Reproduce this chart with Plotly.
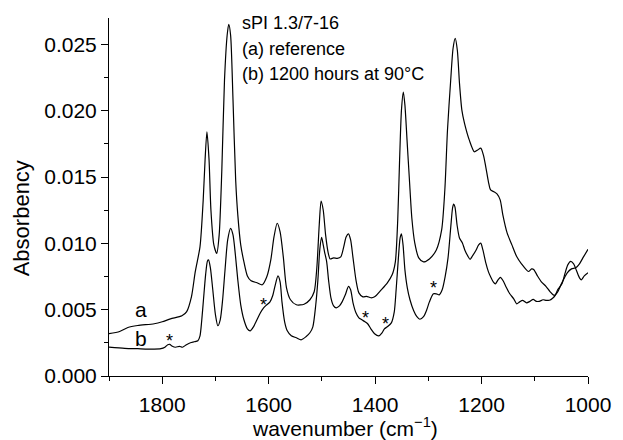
import plotly.graph_objects as go

# ---- data (wavenumber in cm^-1, absorbency) ----
wn_a = [1900, 1880, 1864.5, 1846, 1815, 1800, 1784.5, 1763, 1754, 1745, 1738, 1729, 1723, 1719.5, 1716,
        1712, 1708.5, 1703, 1697.5, 1693, 1688, 1683, 1678, 1675, 1671.5, 1667, 1662, 1658, 1652.5, 1646.5,
        1640, 1633, 1622, 1612, 1603.5, 1596, 1590, 1584, 1578.5, 1572.5, 1566.5, 1559, 1548, 1533.5, 1522.5,
        1514.5, 1509.5, 1505, 1501.5, 1497.5, 1493, 1488.5, 1484.5, 1478, 1471, 1464.5, 1459, 1454.5, 1450,
        1446, 1441.5, 1436, 1430.5, 1423, 1416, 1408, 1401, 1388.5, 1377, 1368, 1362, 1357.5, 1354, 1350.5,
        1347, 1344, 1340, 1335.5, 1331, 1325.5, 1318, 1309, 1298, 1285, 1275, 1269, 1264, 1258, 1253.5,
        1249.5, 1245.5, 1241.5, 1237, 1232, 1223, 1213.5, 1207.5, 1201.5, 1196.5, 1192, 1187, 1183, 1176,
        1171, 1165, 1160, 1152, 1143, 1134, 1125, 1112, 1106, 1102, 1095, 1088, 1079, 1071, 1063.5, 1057,
        1050, 1039, 1031, 1023, 1016, 1008.5, 1000]
abs_a = [0.00319, 0.00336, 0.00366, 0.00381, 0.00394, 0.00409, 0.00431, 0.00454, 0.00486, 0.00599,
         0.00785, 0.00976, 0.01328, 0.01629, 0.01842, 0.01629, 0.01252, 0.00989, 0.00925, 0.01064,
         0.01553, 0.02231, 0.02570, 0.02653, 0.02570, 0.02081, 0.01478, 0.01215, 0.00989, 0.00861,
         0.00755, 0.00718, 0.00703, 0.00688, 0.00748, 0.00876, 0.01049, 0.01152, 0.01087, 0.00898,
         0.00665, 0.00575, 0.00537, 0.00541, 0.00575, 0.00635, 0.00816, 0.01139, 0.01320, 0.01252,
         0.01064, 0.00936, 0.00883, 0.00891, 0.00887, 0.00898, 0.00974, 0.01049, 0.01072, 0.01026,
         0.00891, 0.00725, 0.00627, 0.00597, 0.00601, 0.00590, 0.00597, 0.00650, 0.00703, 0.00763,
         0.00861, 0.01177, 0.01629, 0.02005, 0.02141, 0.02043, 0.01779, 0.01478, 0.01192, 0.01004,
         0.00891, 0.00861, 0.00883, 0.00951, 0.01102, 0.01403, 0.01855, 0.02231, 0.02472, 0.02547,
         0.02457, 0.02209, 0.02005, 0.01905, 0.01779, 0.01691, 0.01704, 0.01719, 0.01666, 0.01576,
         0.01463, 0.01403, 0.01388, 0.01373, 0.01328, 0.01215, 0.01079, 0.00989, 0.00901, 0.00846,
         0.00788, 0.00808, 0.00804, 0.00755, 0.00712, 0.00676, 0.00635, 0.00608, 0.00635, 0.00695,
         0.00778, 0.00808, 0.00816, 0.00846, 0.00898, 0.00955]

wn_b = [1900, 1870.5, 1846, 1815, 1802.5, 1795, 1789.5, 1786, 1781, 1775, 1767.5, 1762, 1754.5, 1747, 1740,
        1733, 1729, 1726, 1722.5, 1718.5, 1715, 1713, 1709.5, 1705, 1700, 1695.5, 1691, 1686.5, 1682, 1677,
        1671.5, 1667, 1662.5, 1658, 1652.5, 1646.5, 1640, 1634.5, 1628.5, 1622, 1615.5, 1609.5, 1603.5,
        1597.5, 1592.5, 1588, 1582.5, 1578.5, 1575, 1570, 1565, 1557.5, 1548, 1539, 1530, 1522.5, 1517,
        1511.5, 1507.5, 1504, 1500.5, 1497.5, 1495, 1491, 1487.5, 1483, 1478, 1473, 1467, 1462, 1456, 1450,
        1446, 1441.5, 1436, 1430.5, 1425, 1419, 1414, 1408, 1401, 1393, 1387, 1382.5, 1377, 1369.5, 1364,
        1360.5, 1356.5, 1353, 1350.5, 1347.5, 1344, 1339.5, 1334.5, 1327.5, 1321.5, 1316, 1309, 1303, 1298,
        1290.5, 1285, 1279.5, 1274, 1268.5, 1263, 1258, 1254.5, 1252.5, 1250, 1246, 1241.5, 1236, 1231.5,
        1226, 1221.5, 1217, 1211, 1205.5, 1201.5, 1197.5, 1192, 1187, 1183, 1178, 1174, 1169, 1164.5,
        1159.5, 1154, 1147, 1139.5, 1134, 1128.5, 1123, 1115.5, 1109, 1103, 1097, 1091.5, 1084.5, 1078.5,
        1072.5, 1066.5, 1061, 1057, 1049, 1043.5, 1038, 1032.5, 1027, 1021.5, 1016, 1012.5, 1007, 1000]
abs_b = [0.00218, 0.00209, 0.00206, 0.00203, 0.00206, 0.00217, 0.00236, 0.00239, 0.00224, 0.00217,
         0.00224, 0.00217, 0.00236, 0.00251, 0.00258, 0.00266, 0.00303, 0.00409, 0.00575, 0.00763,
         0.00868, 0.00876, 0.00816, 0.00650, 0.00462, 0.00379, 0.00424, 0.00575, 0.00800, 0.01026,
         0.01114, 0.01064, 0.00913, 0.00725, 0.00537, 0.00424, 0.00356, 0.00341, 0.00371, 0.00424,
         0.00477, 0.00514, 0.00537, 0.00559, 0.00605, 0.00680, 0.00755, 0.00710, 0.00559, 0.00409,
         0.00341, 0.00303, 0.00288, 0.00273, 0.00296, 0.00326, 0.00371, 0.00537, 0.00725, 0.00951,
         0.01045, 0.00989, 0.00936, 0.00861, 0.00725, 0.00590, 0.00529, 0.00514, 0.00529, 0.00559,
         0.00612, 0.00676, 0.00650, 0.00552, 0.00477, 0.00439, 0.00424, 0.00409, 0.00394, 0.00356,
         0.00319, 0.00303, 0.00326, 0.00356, 0.00371, 0.00401, 0.00484, 0.00650, 0.00876, 0.01041,
         0.01072, 0.00989, 0.00800, 0.00665, 0.00575, 0.00492, 0.00447, 0.00428, 0.00447, 0.00499,
         0.00559, 0.00620, 0.00620, 0.00612, 0.00650, 0.00748, 0.00891, 0.01117, 0.01267, 0.01297,
         0.01275, 0.01139, 0.01041, 0.01004, 0.00951, 0.00906, 0.00880, 0.00906, 0.00944, 0.00989,
         0.01002, 0.00951, 0.00853, 0.00785, 0.00748, 0.00710, 0.00695, 0.00725, 0.00744, 0.00718,
         0.00672, 0.00620, 0.00582, 0.00544, 0.00559, 0.00571, 0.00552, 0.00563, 0.00578, 0.00563,
         0.00563, 0.00575, 0.00571, 0.00571, 0.00586, 0.00612, 0.00650, 0.00695, 0.00770, 0.00838,
         0.00864, 0.00846, 0.00793, 0.00740, 0.00725, 0.00755, 0.00778]

# bands marked with an asterisk
star_wn = [1786, 1609, 1418, 1381, 1290]
star_abs = [0.00263, 0.00536, 0.00441, 0.00393, 0.00666]

# curve labels
curve_labels = ["a", "b"]
curve_label_wn = [1839, 1839]
curve_label_abs = [0.00498, 0.00285]

info_lines = ["sPI 1.3/7-16", "(a) reference", "(b) 1200 hours at 90°C"]
info_abs = [0.02663, 0.02470, 0.02276]

x_tickvals = [1800, 1600, 1400, 1200, 1000]
y_tickvals = [0.000, 0.005, 0.010, 0.015, 0.020, 0.025]

FONT = "Liberation Sans, Arial, sans-serif"

fig = go.Figure()
fig.add_trace(go.Scatter(x=wn_a, y=abs_a, mode="lines", name="a",
                         line=dict(color="black", width=1.2, shape="spline", smoothing=0.7)))
fig.add_trace(go.Scatter(x=wn_b, y=abs_b, mode="lines", name="b",
                         line=dict(color="black", width=1.2, shape="spline", smoothing=0.7)))

ann = []
for w, a in zip(star_wn, star_abs):
    ann.append(dict(x=w, y=a, text="*", showarrow=False, xanchor="center", yanchor="middle",
                    font=dict(size=18, color="black", family=FONT)))
for t, w, a in zip(curve_labels, curve_label_wn, curve_label_abs):
    ann.append(dict(x=w, y=a, text=t, showarrow=False, xanchor="center", yanchor="middle",
                    font=dict(size=21, color="black", family=FONT)))
for t, a in zip(info_lines, info_abs):
    ann.append(dict(x=1653, y=a, text=t, showarrow=False, xanchor="left", yanchor="middle",
                    font=dict(size=18, color="black", family=FONT)))
ann.append(dict(xref="paper", yref="paper", x=-0.182, y=0.44, text="Absorbency", textangle=-90,
                showarrow=False, xanchor="center", yanchor="middle",
                font=dict(size=22, color="black", family=FONT)))
ann.append(dict(xref="paper", yref="paper", x=0.493, y=-0.143, text="wavenumber (cm<sup>\u22121</sup>)",
                showarrow=False, xanchor="center", yanchor="middle",
                font=dict(size=21, color="black", family=FONT)))

fig.update_layout(
    width=623, height=440,
    margin=dict(l=109, r=26, t=18, b=64),
    paper_bgcolor="white", plot_bgcolor="white",
    showlegend=False,
    font=dict(family=FONT, color="black", size=21),
    annotations=ann,
)
fig.update_xaxes(range=[1900, 1000], autorange=False, showline=True, linecolor="black", linewidth=1,
                 ticks="outside", ticklen=7, tickwidth=1, tickcolor="black",
                 tickvals=x_tickvals, showgrid=False, zeroline=False, ticklabelstandoff=3,
                 tickfont=dict(size=21, family=FONT, color="black"),
                 minor=dict(dtick=100, tick0=1000, ticks="outside", ticklen=4, tickcolor="black", showgrid=False))
fig.update_yaxes(range=[0, 0.027], autorange=False, showline=True, linecolor="black", linewidth=1,
                 ticks="outside", ticklen=7, tickwidth=1, tickcolor="black",
                 tickvals=y_tickvals, tickformat=".3f", showgrid=False, zeroline=False,
                 tickfont=dict(size=21, family=FONT, color="black"),
                 minor=dict(dtick=0.0025, tick0=0, ticks="outside", ticklen=4, tickcolor="black", showgrid=False))

fig.write_html("out.html", config={"displayModeBar": False},
               post_script="document.body.style.margin='0';document.body.style.overflow='hidden';")
